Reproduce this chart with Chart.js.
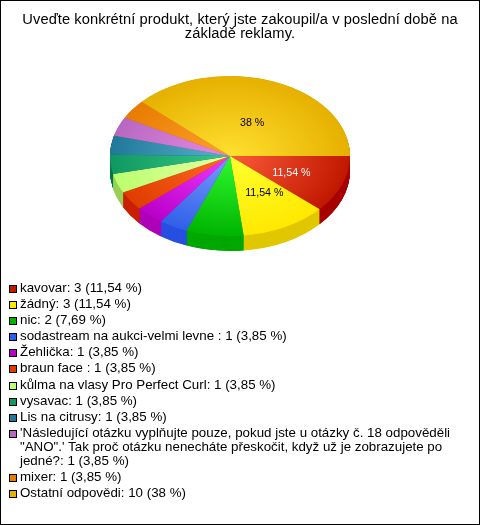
<!DOCTYPE html>
<html><head><meta charset="utf-8">
<style>
html,body{margin:0;padding:0;background:#fff}
#frame{position:relative;width:480px;height:525px;box-sizing:border-box;border:1px solid #000;overflow:hidden}
#wrap{position:absolute;left:-1px;top:-1px;width:480px;height:525px}
#title{position:absolute;left:0;top:11px;width:478px;text-align:center;font:14.67px/14px "Liberation Sans",Arial,sans-serif;letter-spacing:.09px;color:#000}
#legend{position:absolute;left:8px;top:280px;width:448px;font:13.33px "Liberation Sans",Arial,sans-serif;line-height:14px;color:#000}
.it{position:relative;padding-left:11px;margin-bottom:2.1px}
.sw{position:absolute;left:0;top:4px;width:6px;height:6px;border:1px solid #000}
</style></head><body>
<div id="frame"><div id="wrap"><canvas id="c" width="480" height="525"></canvas></div><div id="title"></div><div id="legend"></div></div>
<script src="https://cdn.jsdelivr.net/npm/chart.js@4/dist/chart.umd.min.js"></script>
<script>
const titleLines=["Uveďte konkrétní produkt, který jste zakoupil/a v poslední době na","základě reklamy."];
const categories=["kavovar","žádný","nic","sodastream na aukci-velmi levne ","Žehlička","braun face ","kůlma na vlasy Pro Perfect Curl","vysavac","Lis na citrusy","'Následující otázku vyplňujte pouze, pokud jste u otázky č. 18 odpověděli \"ANO\".' Tak proč otázku nenecháte přeskočit, když už je zobrazujete po jedné?","mixer","Ostatní odpovědi"];
const counts=[3,3,2,1,1,1,1,1,1,1,1,10];
const shares=[11.54,11.54,7.69,3.85,3.85,3.85,3.85,3.85,3.85,3.85,3.85,38];
const innerColors=["#fb5a38","#ffff30","#30fa30","#7a9cff","#f038ff","#ff6a20","#e4ffa4","#38c888","#58b4c8","#e68ae6","#ffa030","#ffe030"];
const outerColors=["#c01800","#ffe800","#00b400","#3060e8","#b800c8","#e03c00","#bcff70","#109860","#20789a","#b868c0","#e87c00","#e6b000"];
const sideColors=["#a80000","#e0c800","#00a800","#2850e0","#b000b8","#c82000","#98d058","#007840","#105878","#905098","#b86000","#b88c00"];
const labelColors=["#fff","#000",null,null,null,null,null,null,null,null,null,"#000"];
const Y_SCALE=2/3, DEPTH=15;
const LABEL_NUDGE={0:[2,2],1:[5,-1],11:[-1,7]};
const fmt=v=>String(v).replace('.',',')+" %";

function squash(ctx,x,y){ctx.translate(x,y);ctx.scale(1,Y_SCALE);ctx.translate(-x,-y);}
const pie3d={
  id:'pie3d',
  beforeDatasetsDraw(chart){
    const arcs=chart.getDatasetMeta(0).data,ctx=chart.ctx;
    if(!arcs.length)return;
    const {x,y,outerRadius:r}=arcs[0];
    ctx.save();
    squash(ctx,x,y);
    const d=DEPTH/Y_SCALE;
    for(let k=d;k>0;k-=0.5){
      arcs.forEach((a,i)=>{
        ctx.beginPath();ctx.moveTo(a.x,a.y+k);
        ctx.arc(a.x,a.y+k,r,a.startAngle,a.endAngle);ctx.closePath();
        ctx.fillStyle=sideColors[i];ctx.fill();});
    }
  },
  afterDatasetsDraw(chart){
    const arcs=chart.getDatasetMeta(0).data,ctx=chart.ctx;
    ctx.restore();
    ctx.save();
    ctx.font='10.67px "Liberation Sans",Arial,sans-serif';
    ctx.textAlign='center';ctx.textBaseline='middle';
    arcs.forEach((a,i)=>{
      if(!labelColors[i])return;
      const m=(a.startAngle+a.endAngle)/2,R=a.outerRadius*0.53,n=LABEL_NUDGE[i]||[0,0];
      ctx.fillStyle=labelColors[i];
      ctx.fillText(fmt(shares[i]),a.x+Math.cos(m)*R+n[0],a.y+Math.sin(m)*R*Y_SCALE+n[1]);
    });
    ctx.restore();
  }
};
function sliceFill(c){
  const i=c.dataIndex,chart=c.chart,a=chart.getDatasetMeta(0).data[i];
  if(!a||!a.outerRadius)return outerColors[i];
  const g=chart.ctx.createRadialGradient(a.x,a.y,0,a.x,a.y,a.outerRadius);
  g.addColorStop(0,innerColors[i]);g.addColorStop(1,outerColors[i]);
  return g;
}
const chart=new Chart(document.getElementById('c'),{
  type:'pie',
  plugins:[pie3d],
  data:{labels:categories,datasets:[{data:shares,backgroundColor:sliceFill,borderWidth:0}]},
  options:{
    responsive:false,animation:false,rotation:90,
    layout:{padding:{left:110,right:130,top:36,bottom:249}},
    plugins:{legend:{display:false},tooltip:{enabled:false},title:{display:false}}
  }
});
chart.update();
document.getElementById('title').innerHTML=titleLines.join('<br>');
const lg=document.getElementById('legend');
categories.forEach((n,i)=>{
  const d=document.createElement('div');d.className='it';
  const s=document.createElement('span');s.className='sw';s.style.background=outerColors[i];
  d.appendChild(s);d.appendChild(document.createTextNode(n+": "+counts[i]+" ("+fmt(shares[i])+")"));
  lg.appendChild(d);
});
</script></body></html>
